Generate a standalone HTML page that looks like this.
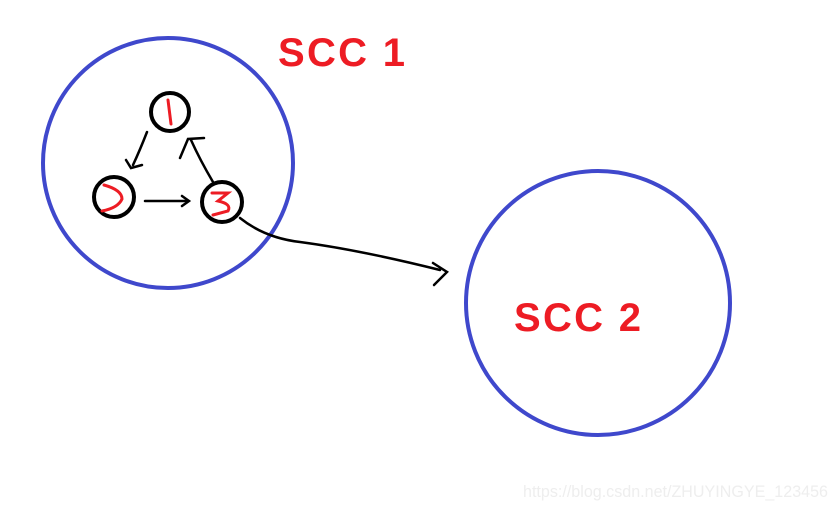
<!DOCTYPE html>
<html><head><style>body{margin:0;background:#fff;}svg{display:block}</style></head><body>
<svg width="836" height="508" xmlns="http://www.w3.org/2000/svg">
<rect width="836" height="508" fill="#fff"/>
<circle cx="168" cy="163" r="125" fill="none" stroke="#3f48cc" stroke-width="4"/>
<circle cx="598" cy="303" r="132" fill="none" stroke="#3f48cc" stroke-width="4"/>
<text x="278" y="66" font-family="Liberation Sans, sans-serif" font-weight="bold" font-size="40" fill="#ed1c24" textLength="127" lengthAdjust="spacing">SCC  1</text>
<text x="514" y="331" font-family="Liberation Sans, sans-serif" font-weight="bold" font-size="40" fill="#ed1c24" textLength="127" lengthAdjust="spacing">SCC  2</text>
<g fill="none" stroke="#000" stroke-width="4">
<circle cx="170" cy="112" r="19"/>
<circle cx="114" cy="197" r="20"/>
<circle cx="222" cy="202" r="20"/>
</g>
<g fill="none" stroke="#000" stroke-width="2.5" stroke-linecap="round">
<path d="M147 132 Q140 150 133 165"/>
<path d="M126 160 L131 168 L142 165"/>
<path d="M145 201 L188 201"/>
<path d="M182 196 L189 201 L182 206"/>
<path d="M213 182 Q200 160 191 140"/>
<path d="M180 158 L188 139 L204 138"/>
<path d="M240 218 Q265 238 300 242 Q360 250 440 270"/>
<path d="M433 263 L447 272 L434 285"/>
</g>
<g fill="none" stroke="#ed1c24" stroke-width="3" stroke-linecap="round">
<path d="M168 100 L171 124"/>
<path d="M104 185 Q122 190 122 199 Q118 208 102 211"/>
<path d="M212 193 L228 193 L218 201 Q232 204 228 211 L213 215"/>
</g>
<text x="523" y="497" font-family="Liberation Sans, sans-serif" font-size="16.5" fill="#eeeeee" textLength="305" lengthAdjust="spacingAndGlyphs">https://blog.csdn.net/ZHUYINGYE_123456</text>
</svg>
</body></html>
